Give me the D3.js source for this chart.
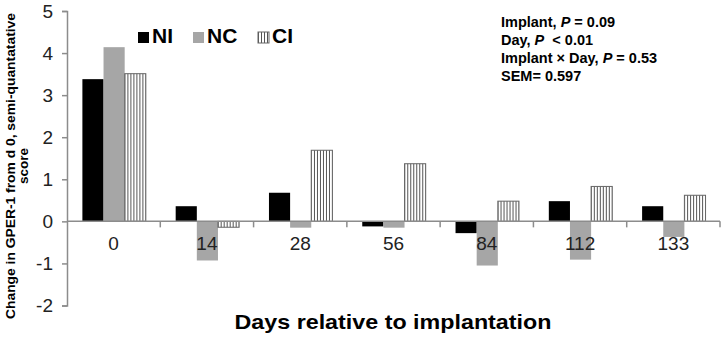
<!DOCTYPE html>
<html>
<head>
<meta charset="utf-8">
<script src="https://cdn.jsdelivr.net/npm/d3@7"></script>
<style>
  body { margin: 0; background: #fff; }
  svg { font-family: "Liberation Sans", Arial, sans-serif; }
  .axis path, .axis line { stroke: #8c8c8c; stroke-width: 1.5; }
  .axis text { fill: #222; }
</style>
</head>
<body>
<div id="chart"></div>
<script>
// data
const days = ['0', '14', '28', '56', '84', '112', '133'];
const groups = ['NI', 'NC', 'CI'];
const niValues = [3.38, 0.36, 0.68, -0.12, -0.28, 0.48, 0.36];
const ncValues = [4.14, -0.93, -0.15, -0.15, -1.05, -0.91, -0.37];
const ciValues = [3.51, -0.14, 1.69, 1.37, 0.48, 0.83, 0.62];
const yTicks = [-2, -1, 0, 1, 2, 3, 4, 5];
const statLines = [
    [['Implant, ', false], ['P', true], [' = 0.09', false]],
    [['Day, ', false], ['P', true], ['\u00a0 < 0.01', false]],
    [['Implant \u00d7 Day, ', false], ['P', true], [' = 0.53', false]],
    [['SEM= 0.597', false]]
];

const rows = days.map((d, i) => ({day: d, NI: niValues[i], NC: ncValues[i], CI: ciValues[i]}));

const width = 723, height = 337;
const margin = {top: 11, right: 3, bottom: 32, left: 67};
const innerW = width - margin.left - margin.right;

const svg = d3.select('#chart').append('svg')
    .attr('width', width)
    .attr('height', height);

// vertical stripe pattern for CI
const defs = svg.append('defs');
const pat = defs.append('pattern')
    .attr('id', 'stripes')
    .attr('patternUnits', 'userSpaceOnUse')
    .attr('width', 3).attr('height', 4);
pat.append('rect').attr('width', 3).attr('height', 4).attr('fill', '#fff');
pat.append('rect').attr('x', 0).attr('width', 1).attr('height', 4).attr('fill', '#555');

const fills = {NI: '#000', NC: '#a6a6a6', CI: 'url(#stripes)'};
const strokes = {NI: 'none', NC: 'none', CI: '#666'};

const chart = svg.append('g')
    .attr('transform', `translate(${margin.left},${margin.top})`);

const yScale = d3.scaleLinear()
    .domain([-2, 5])
    .range([294.5, 0]);

const xScale = d3.scaleBand()
    .domain(days)
    .range([0, innerW])
    .paddingInner(0)
    .paddingOuter(0);

const x1 = d3.scaleBand()
    .domain(groups)
    .range([0, xScale.bandwidth() * 0.68])
    .padding(0);

const barOffset = xScale.bandwidth() * 0.165;

// y axis
const yAxis = d3.axisLeft(yScale)
    .tickValues(yTicks)
    .tickFormat(d => String(d))
    .tickSize(5)
    .tickPadding(9)
    .tickSizeOuter(5);
const yAxisG = chart.append('g').attr('class', 'axis y-axis').call(yAxis);
yAxisG.selectAll('text').attr('font-size', 19);

// bars
const dayG = chart.selectAll('.day')
    .data(rows)
    .join('g')
    .attr('class', 'day')
    .attr('transform', d => `translate(${xScale(d.day) + barOffset},0)`);

dayG.selectAll('rect')
    .data(d => groups.map(g => ({key: g, value: d[g]})))
    .join('rect')
    .attr('x', d => x1(d.key))
    .attr('y', d => yScale(Math.max(0, d.value)))
    .attr('width', x1.bandwidth())
    .attr('height', d => Math.abs(yScale(d.value) - yScale(0)))
    .attr('fill', d => fills[d.key])
    .attr('stroke', d => strokes[d.key])
    .attr('stroke-width', 1);

// x axis at zero
const xAxis = d3.axisBottom(xScale)
    .tickSize(0)
    .tickPadding(15);
const xAxisG = chart.append('g')
    .attr('class', 'axis x-axis')
    .attr('transform', `translate(0,${yScale(0)})`)
    .call(xAxis);
xAxisG.select('.domain').attr('d', `M0,0H${innerW}`);
xAxisG.selectAll('text').attr('font-size', 19);

// band boundary ticks
xAxisG.selectAll('.bound')
    .data(days.slice(1).concat(['end']))
    .join('line')
    .attr('class', 'bound')
    .attr('x1', (d, i) => i < days.length - 1 ? xScale(d) : innerW)
    .attr('x2', (d, i) => i < days.length - 1 ? xScale(d) : innerW)
    .attr('y1', 0)
    .attr('y2', 6);

// axis titles
svg.append('text')
    .attr('x', 393)
    .attr('y', 329)
    .attr('text-anchor', 'middle')
    .attr('font-size', 21)
    .attr('font-weight', 'bold')
    .attr('textLength', 317)
    .attr('lengthAdjust', 'spacingAndGlyphs')
    .text('Days relative to implantation');

const yTitle = svg.append('text')
    .attr('transform', 'translate(0,166) rotate(-90)')
    .attr('text-anchor', 'middle')
    .attr('font-size', 12)
    .attr('font-weight', 'bold');
yTitle.append('tspan').attr('x', 0).attr('y', 15)
    .attr('textLength', 306)
    .attr('lengthAdjust', 'spacingAndGlyphs')
    .text('Change in GPER-1 from d 0, semi-quantatative');
yTitle.append('tspan').attr('x', 0).attr('y', 28)
    .attr('textLength', 36)
    .attr('lengthAdjust', 'spacingAndGlyphs')
    .text('score');

// legend
const legendX = [138, 193, 258];
const legend = svg.selectAll('.legend')
    .data(groups)
    .join('g')
    .attr('class', 'legend')
    .attr('transform', (d, i) => `translate(${legendX[i]},32)`);
legend.append('rect')
    .attr('width', 11).attr('height', 11)
    .attr('fill', d => fills[d])
    .attr('stroke', d => strokes[d]);
legend.append('text')
    .attr('x', 14).attr('y', 11)
    .attr('font-size', 21)
    .attr('font-weight', 'bold')
    .text(d => d);

// stats text
const stats = svg.append('g').attr('font-size', 14.5).attr('font-weight', 'bold');
stats.selectAll('text')
    .data(statLines)
    .join('text')
    .attr('x', 501)
    .attr('y', (d, i) => 27 + i * 18)
    .selectAll('tspan')
    .data(d => d)
    .join('tspan')
    .attr('font-style', d => d[1] ? 'italic' : 'normal')
    .text(d => d[0]);
</script>
</body>
</html>
